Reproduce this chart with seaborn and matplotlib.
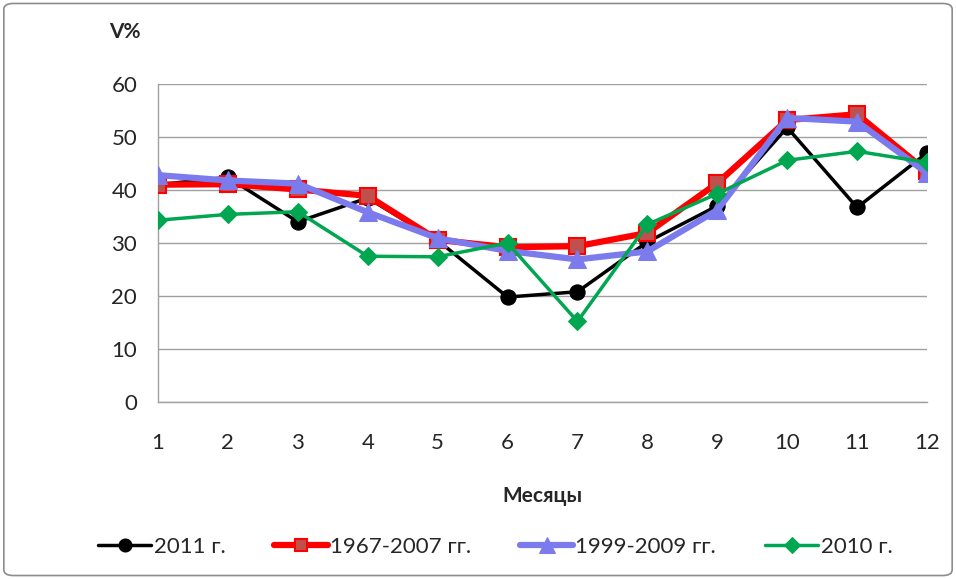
import matplotlib
matplotlib.use("Agg")
import matplotlib.pyplot as plt
from matplotlib.patches import FancyBboxPatch
import seaborn as sns
import pandas as pd

# data
months = [1, 2, 3, 4, 5, 6, 7, 8, 9, 10, 11, 12]
v_2011 = [41.0, 42.4, 34.0, 38.5, 30.5, 19.8, 20.8, 30.2, 37.0, 51.8, 36.7, 47.0]
v_1967_2007 = [41.0, 41.1, 40.1, 38.9, 30.6, 29.2, 29.4, 31.9, 41.3, 53.2, 54.3, 43.5]
v_1999_2009 = [42.8, 41.8, 41.2, 35.8, 30.9, 28.5, 26.9, 28.4, 36.2, 53.6, 52.9, 43.2]
v_2010 = [34.3, 35.4, 35.9, 27.5, 27.4, 30.0, 15.2, 33.5, 39.3, 45.6, 47.3, 45.2]
labels = ["2011 г.", "1967-2007 гг.", "1999-2009 гг.", "2010 г."]

df = pd.DataFrame({"month": months * 4,
                   "value": v_2011 + v_1967_2007 + v_1999_2009 + v_2010,
                   "series": sum([[l] * 12 for l in labels], [])})

sns.set_style("white")
plt.rcParams['font.family'] = ['Lato', 'DejaVu Sans']

fig = plt.figure(figsize=(9.56, 5.79), dpi=100)
ax = fig.add_axes([158 / 956, 1 - 402 / 579, (927 - 158) / 956, (402 - 84) / 579])

styles = {
    "2011 г.": dict(color="black", marker="o", markersize=11, linewidth=2.5,
                    markerfacecolor="black", markeredgecolor="black"),
    "1967-2007 гг.": dict(color="#FF0000", marker="s", markersize=11, linewidth=4.5,
                          markerfacecolor="#C0504D", markeredgecolor="#FF0000", markeredgewidth=1.5),
    "1999-2009 гг.": dict(color="#7B7BEE", marker="^", markersize=13, linewidth=4.5,
                          markerfacecolor="#7B7BEE", markeredgecolor="#7B7BEE"),
    "2010 г.": dict(color="#00A650", marker="D", markersize=9, linewidth=2.5,
                    markerfacecolor="#00A650", markeredgecolor="#00A650"),
}

for i, lab in enumerate(labels):
    sub = df[df["series"] == lab]
    sns.lineplot(data=sub, x="month", y="value", ax=ax, label=lab, zorder=3 + i,
                 **styles[lab])

ax.set_xlim(1, 12)
ax.set_ylim(0, 60)
ax.set_xticks(months)
ax.set_yticks(range(0, 61, 10))
ax.yaxis.grid(True, color="#A0A0A0", linewidth=1)
ax.xaxis.grid(False)
for s in ["top", "right"]:
    ax.spines[s].set_visible(False)
for s in ["left", "bottom"]:
    ax.spines[s].set_color("#A0A0A0")
    ax.spines[s].set_linewidth(1)
ax.tick_params(axis="x", direction="out", length=8, color="#A0A0A0", labelsize=16, pad=14)
ax.tick_params(axis="y", direction="out", length=7, color="#A0A0A0", labelsize=16, pad=8)
ax.set_xlabel("Месяцы", fontsize=15, fontweight="bold", labelpad=24)
ax.set_ylabel("")
fig.text(125 / 956, 1 - 32 / 579, "V%", fontsize=15, fontweight="bold", ha="center", va="center")

ax.legend(loc="center", bbox_to_anchor=(0.518, 1 - 547 / 579), bbox_transform=fig.transFigure,
          ncol=4, frameon=False, fontsize=16, handlelength=2.4, handletextpad=0.1,
          columnspacing=2.2, markerscale=0.85)

border = FancyBboxPatch((0.004, 0.006), 0.992, 0.988, boxstyle="round,pad=0,rounding_size=0.01",
                        transform=fig.transFigure, fill=False, edgecolor="#8C8C8C", linewidth=1.2)
fig.patches.append(border)

fig.savefig("out.png", dpi=100)
